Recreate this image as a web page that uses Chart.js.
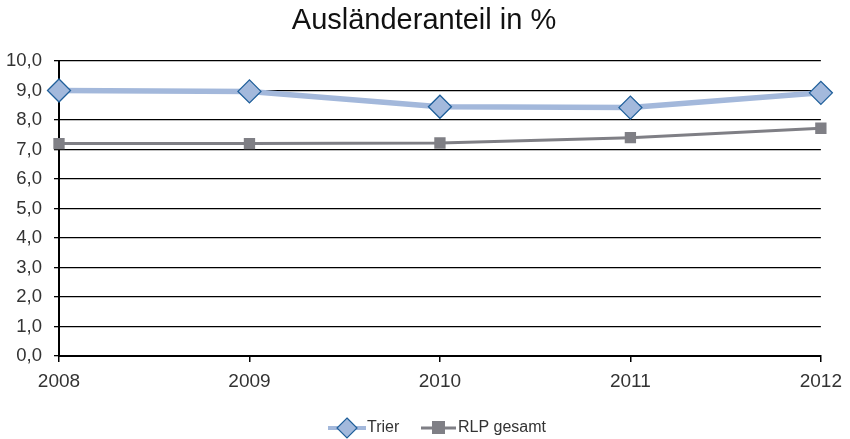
<!DOCTYPE html>
<html>
<head>
<meta charset="utf-8">
<script src="https://cdn.jsdelivr.net/npm/chart.js@4/dist/chart.umd.min.js"></script>
<style>
  html, body { margin: 0; padding: 0; background: #fff; }
  #wrap { width: 850px; height: 439px; }
</style>
</head>
<body>
<div id="wrap"><canvas id="myChart" width="850" height="439"></canvas></div>
<script>
// Jahre
const years = ['2008', '2009', '2010', '2011', '2012'];
// Ausländeranteil in %
const trier = [9.0, 8.97, 8.45, 8.42, 8.92];
const rlp = [7.2, 7.2, 7.22, 7.4, 7.72];
const yTicks = [0, 1, 2, 3, 4, 5, 6, 7, 8, 9, 10];

const fontFam = '"Liberation Sans", Arial, sans-serif';

// Titel und Legende selbst zeichnen
const extras = {
    id: 'extras',
    afterDraw(chart) {
        const ctx = chart.ctx;
        ctx.save();
        ctx.fillStyle = '#111';
        ctx.font = '29px ' + fontFam;
        ctx.textAlign = 'center';
        ctx.textBaseline = 'middle';
        ctx.fillText('Ausländeranteil in %', 424, 21);

        ctx.font = '16px ' + fontFam;
        ctx.textAlign = 'left';
        const ly = 428;
        // Trier
        ctx.strokeStyle = '#a3b8db';
        ctx.lineWidth = 4;
        ctx.beginPath(); ctx.moveTo(328, ly); ctx.lineTo(366, ly); ctx.stroke();
        ctx.fillStyle = '#a3b9dc';
        ctx.strokeStyle = '#1f5f9a';
        ctx.lineWidth = 1.2;
        ctx.beginPath();
        ctx.moveTo(347, ly - 10); ctx.lineTo(357, ly); ctx.lineTo(347, ly + 10); ctx.lineTo(337, ly);
        ctx.closePath(); ctx.fill(); ctx.stroke();
        ctx.fillStyle = '#333';
        ctx.fillText('Trier', 367, ly);
        // RLP
        ctx.strokeStyle = '#7f7f85';
        ctx.lineWidth = 3;
        ctx.beginPath(); ctx.moveTo(421, ly); ctx.lineTo(456, ly); ctx.stroke();
        ctx.fillStyle = '#7f7f85';
        ctx.fillRect(432, ly - 7, 13, 13);
        ctx.fillStyle = '#333';
        ctx.fillText('RLP gesamt', 458, ly);
        ctx.restore();
    }
};

const configChart = {
    type: 'line',
    data: {
        labels: years,
        datasets: [{
            label: 'Trier',
            data: trier,
            borderColor: '#a3b8db',
            borderWidth: 5.5,
            pointStyle: 'rectRot',
            pointRadius: 11.5,
            pointBackgroundColor: '#a3b9dc',
            pointBorderColor: '#1f5f9a',
            pointBorderWidth: 1.3,
            tension: 0
        }, {
            label: 'RLP gesamt',
            data: rlp,
            borderColor: '#7f7f85',
            borderWidth: 3,
            pointStyle: 'rect',
            pointRadius: 8,
            pointBackgroundColor: '#7f7f85',
            pointBorderColor: '#7f7f85',
            pointBorderWidth: 0,
            tension: 0
        }]
    },
    options: {
        responsive: false,
        animation: false,
        layout: { padding: { top: 61, right: 29, left: 0, bottom: 0 } },
        plugins: {
            legend: { display: false },
            title: { display: false },
            tooltip: { enabled: false }
        },
        scales: {
            x: {
                offset: false,
                grid: { display: true, drawOnChartArea: false, color: '#000', tickLength: 6, lineWidth: 1.5 },
                border: { color: '#000', width: 2 },
                ticks: { color: '#333', font: { family: fontFam, size: 19 }, padding: 8, maxRotation: 0 },
                afterFit(scale) { scale.height = 83; }
            },
            y: {
                min: 0,
                max: 10,
                afterBuildTicks(scale) { scale.ticks = yTicks.map(v => ({ value: v })); },
                grid: { color: '#000', lineWidth: 1.3, tickLength: 5 },
                border: { color: '#000', width: 2 },
                ticks: {
                    color: '#333',
                    font: { family: fontFam, size: 18.5 },
                    padding: 12,
                    callback: v => v.toFixed(1).replace('.', ',')
                },
                afterFit(scale) { scale.width = 59; }
            }
        }
    },
    plugins: [extras]
};

window.onload = () => {
    const ctx = document.querySelector('#myChart').getContext('2d');
    new Chart(ctx, configChart);
};
</script>
</body>
</html>
